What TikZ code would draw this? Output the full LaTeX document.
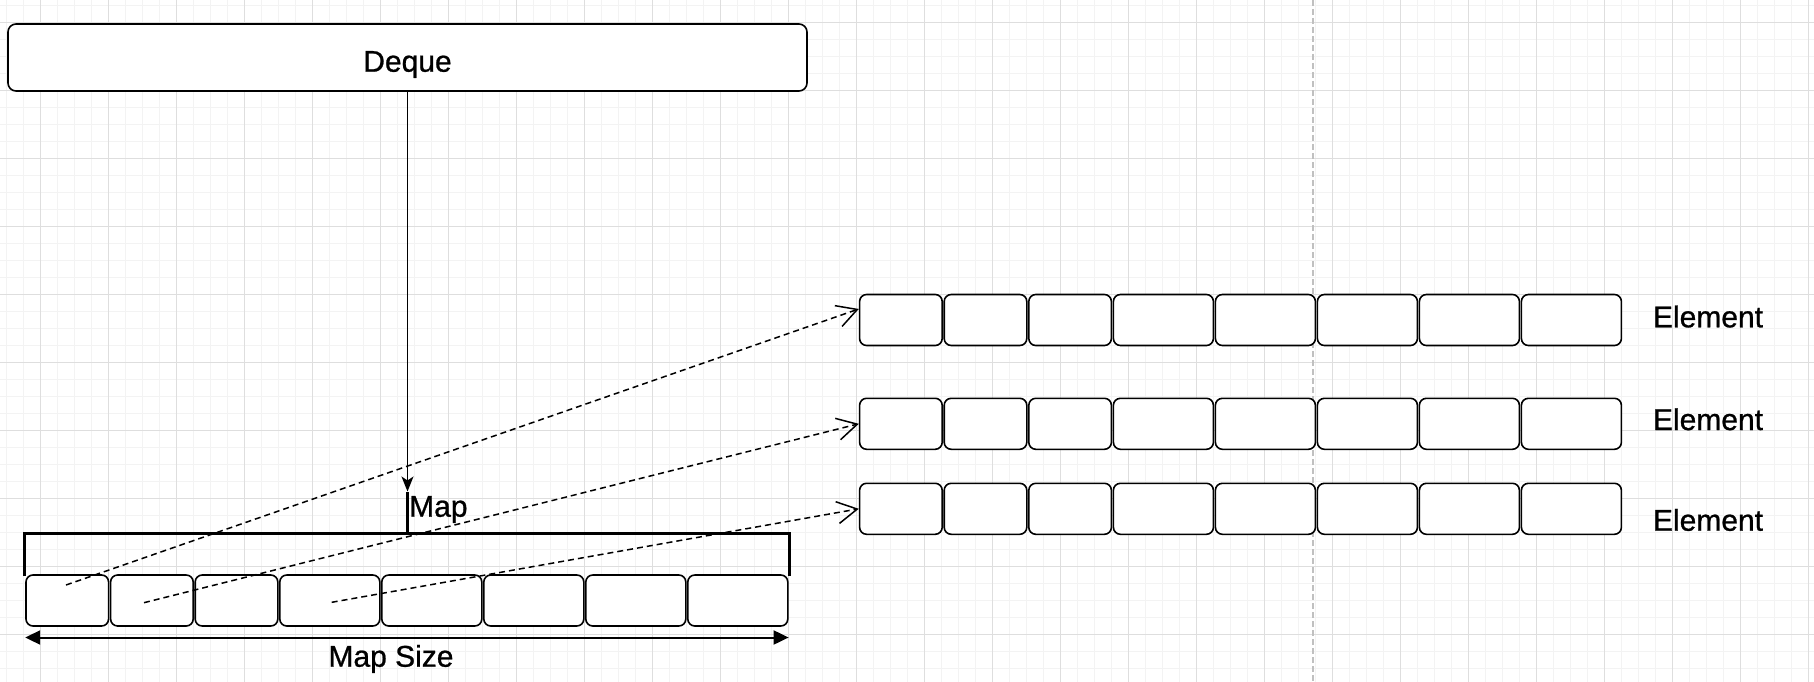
\documentclass[tikz,border=0pt]{standalone}
\usepackage{fontspec}
\setmainfont{Liberation Sans}
\newfontfamily\sketchfont{Liberation Sans}[BoldFont={Liberation Sans}, BoldFeatures={FakeBold=0.8}]
\usepackage{tikz}
\usetikzlibrary{calc}
\usetikzlibrary{arrows.meta}
\tikzset{>=latex}
\definecolor{gridminor}{HTML}{F3F3F3}
\definecolor{gridmajor}{HTML}{DEDEDE}
\definecolor{pageline}{HTML}{C0C0C0}
\tikzset{
    cellbox/.style={draw=black, line width=1.6pt, rounded corners=7pt, fill=white,
        minimum height=51pt, inner sep=0pt},
    dequebox/.style={draw=black, line width=1.6pt, rounded corners=8pt, fill=white,
        minimum width=799pt, minimum height=67pt, inner sep=0pt,
        text height=28.4pt, text depth=0pt, font=\sketchfont\bfseries\fontsize{30}{36}\selectfont},
    lbl/.style={inner sep=0pt, font=\sketchfont\bfseries\fontsize{30}{36}\selectfont},
    ptrarrow/.style={line width=1.5pt, dash pattern=on 6pt off 4pt,
        -{Straight Barb[length=20pt,width=22pt]}},
    maparrow/.style={line width=1.5pt, -{Stealth[length=15pt,width=12pt,inset=4pt]}},
    sizearrow/.style={line width=2pt,
        {Triangle[length=15pt,width=14pt]}-{Triangle[length=15pt,width=14pt]}},
    bracketline/.style={line width=3pt},
}

\begin{document}
\begin{tikzpicture}[x=1pt, y=-1pt]
                    \useasboundingbox (0,0) rectangle (1814,682);
                    \fill[white] (0,0) rectangle (1814,682);
                    % background grid
                    \foreach \gx in {6.3,23.3,...,1814}
                        \draw[gridminor, line width=1.5pt] (\gx,0) -- (\gx,682);
                    \foreach \gy in {5.3,22.3,...,682}
                        \draw[gridminor, line width=1.5pt] (0,\gy) -- (1814,\gy);
                    \foreach \gx in {40.3,108.3,...,1814}
                        \draw[gridmajor, line width=1pt] (\gx,0) -- (\gx,682);
                    \foreach \gy in {22.3,90.3,...,682}
                        \draw[gridmajor, line width=1pt] (0,\gy) -- (1814,\gy);
                    \draw[pageline, line width=1.5pt, dash pattern=on 6pt off 3pt] (1313,0) -- (1313,682);

                    \node[dequebox] (deque) at (407.5,57.5) {Deque};

                    % map cells (m) and element rows (a, b, c)
                    \foreach \r/\x/\y in {m/25/600.5, a/858.6/320, b/858.6/423.8, c/858.6/508.8}
                        \foreach \i/\l/\w in {1/0/84.6, 2/84.6/84.6, 3/169.2/84.6, 4/253.8/102,
                                5/355.8/102, 6/457.8/102, 7/559.8/102, 8/661.8/102}
                            \node[cellbox, minimum width={(\w-2)*1pt}] (\r\i) at ({\x+\l+\w/2},\y) {};

                    \node[lbl, anchor=base] (la) at (1708,327.3) {Element};
                    \node[lbl, anchor=base] (lb) at (1708,430) {Element};
                    \node[lbl, anchor=base] (lc) at (1708,530.7) {Element};

                    % bracket over the map
                    \coordinate (stem) at (407.5,491.5);
                    \draw[bracketline] (24,576) -- (24,533) -- (789,533) -- (789,576);
                    \draw[line width=2.5pt] (407.5,533) -- (stem);
                    \draw[maparrow] (deque) -- (stem);
                    \node[lbl, anchor=base west] (maplbl) at (409,516.7) {Map};

                    \draw[sizearrow] ([yshift=-10.7pt]m1.south west) -- ([yshift=-10.7pt]m8.south east);
                    \node[lbl, anchor=base] (sizelbl) at (391,666.7) {Map Size};

                    % pointers from the map into the element rows
                    \coordinate (s1) at (66,585);
                    \coordinate (s2) at (144,602.7);
                    \coordinate (s3) at (331.7,602.3);
                    \draw[ptrarrow] (s1) -- ($(a1.north west)!0.29!(a1.south west)$);
                    \draw[ptrarrow] (s2) -- (b1.west);
                    \draw[ptrarrow] (s3) -- (c1.west);
\end{tikzpicture}
\end{document}
